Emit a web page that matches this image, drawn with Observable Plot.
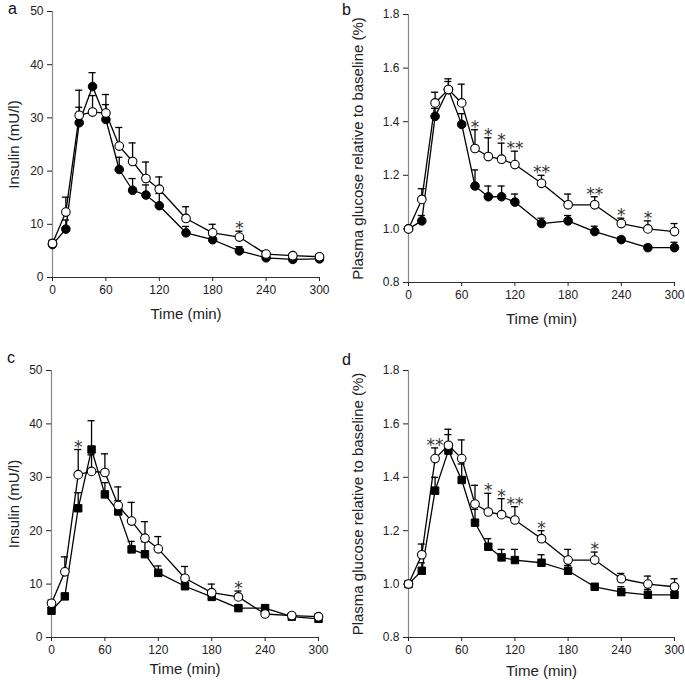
<!DOCTYPE html>
<html>
<head>
<meta charset="utf-8">
<script src="https://cdn.jsdelivr.net/npm/d3@7"></script>
<script src="https://cdn.jsdelivr.net/npm/@observablehq/plot@0.6"></script>
<style>
  body { margin: 0; background: #fff; font-family: "Liberation Sans", Arial, sans-serif; }
  #wrap { position: relative; width: 685px; height: 689px; overflow: hidden; }
  .panel { position: absolute; }
  .letter { position: absolute; font-size: 16px; line-height: 16px; color: #111; font-family: "Liberation Sans", Arial, sans-serif; }
</style>
</head>
<body>
<div id="wrap"></div>
<script>
// ---- data ----
const times = [0, 15, 30, 45, 60, 75, 90, 105, 120, 150, 180, 210, 240, 270, 300];

// Insulin (mU/l)
const insulinOpen      = [6.4, 12.3, 30.5, 31.1, 30.9, 24.7, 21.8, 18.6, 16.6, 11.1, 8.4, 7.6, 4.4, 4.1, 3.9];
const insulinOpenTop   = [7.0, 15.1, 35.2, 34.2, 34.4, 28.2, 25.3, 21.7, 18.9, 13.3, 10.0, 8.7, 5.0, 4.5, 4.4];
const insulinCircle    = [6.2, 9.1, 29.1, 35.9, 29.7, 20.3, 16.4, 15.5, 13.5, 8.4, 7.1, 5.0, 3.7, 3.4, 3.5];
const insulinCircleTop = [6.8, 10.8, 32.0, 38.5, 32.5, 22.6, 18.6, 17.4, 15.8, 9.6, 7.9, 5.8, 4.0, 3.7, 3.8];
const insulinSquare    = [5.0, 7.7, 24.2, 35.2, 26.8, 23.6, 16.5, 15.6, 12.1, 9.6, 7.6, 5.5, 5.5, 3.9, 3.5];
const insulinSquareTop = [5.6, 8.1, 27.1, 40.6, 29.0, 25.6, 18.0, 17.9, 13.4, 10.5, 8.4, 5.9, 6.1, 4.4, 3.9];

// Plasma glucose relative to baseline
const glucoseOpen      = [1.00, 1.11, 1.47, 1.52, 1.47, 1.30, 1.27, 1.26, 1.24, 1.17, 1.09, 1.09, 1.02, 1.00, 0.99];
const glucoseOpenTop   = [1.00, 1.15, 1.51, 1.56, 1.54, 1.37, 1.34, 1.32, 1.29, 1.20, 1.13, 1.12, 1.04, 1.03, 1.02];
const glucoseCircle    = [1.00, 1.03, 1.42, 1.52, 1.39, 1.16, 1.12, 1.12, 1.10, 1.02, 1.03, 0.99, 0.96, 0.93, 0.93];
const glucoseCircleTop = [1.00, 1.05, 1.45, 1.55, 1.43, 1.22, 1.16, 1.16, 1.13, 1.04, 1.05, 1.01, 0.97, 0.94, 0.95];
const glucoseSquare    = [1.00, 1.05, 1.35, 1.50, 1.39, 1.23, 1.14, 1.10, 1.09, 1.08, 1.05, 0.99, 0.97, 0.96, 0.96];
const glucoseSquareTop = [1.00, 1.08, 1.40, 1.58, 1.45, 1.28, 1.17, 1.13, 1.13, 1.11, 1.07, 1.00, 0.99, 0.98, 0.98];

// significance marks
const sigA = ["", "", "", "", "", "", "", "", "", "", "", "*", "", "", ""];
const sigB = ["", "", "", "", "", "*", "*", "*", "**", "**", "", "**", "*", "*", ""];
const sigC = ["", "", "*", "", "", "", "", "", "", "", "", "*", "", "", ""];
const sigD = ["", "", "**", "", "", "", "*", "*", "**", "*", "", "*", "", "", ""];

// tick labels
const xTicks = [0, 60, 120, 180, 240, 300];
const insulinTicks = [0, 10, 20, 30, 40, 50];
const glucoseTicks = [0.8, 1.0, 1.2, 1.4, 1.6, 1.8];

const insulinLabel = "Insulin (mU/l)";
const glucoseLabel = "Plasma glucose relative to baseline (%)";
const xLabel = "Time (min)";

// ---- drawing ----
const FONT = "'Liberation Sans', Arial, sans-serif";

function series(vals, tops, kind) {
  return times.map((t, i) => ({t, v: vals[i], top: tops[i], kind}));
}

function panel(opts) {
  const filled = series(opts.filled, opts.filledTop, "filled");
  const open = series(opts.open, opts.openTop, "open");
  const sig = times.map((t, i) => ({t, s: opts.sig[i],
    y: Math.max(opts.openTop[i], opts.filledTop[i], opts.open[i], opts.filled[i])})).filter(d => d.s);
  const cap = 4;
  return Plot.plot({
    width: opts.width, height: opts.height,
    marginLeft: opts.ml, marginRight: opts.mr, marginTop: opts.mt, marginBottom: opts.mb,
    style: {fontFamily: FONT, fontSize: "12px", background: "transparent", color: "#222"},
    x: {domain: [0, 300]},
    y: {domain: opts.yDomain},
    marks: [
      // axes
      Plot.ruleX([0], {y1: opts.yDomain[0], y2: opts.yDomain[1], stroke: "#888", strokeWidth: 1.2}),
      Plot.ruleY([opts.yDomain[0]], {x1: 0, x2: 300, stroke: "#333", strokeWidth: 1.2}),
      Plot.axisX({ticks: xTicks, tickSize: 4, tickPadding: 4, label: null, tickFormat: d => String(d)}),
      Plot.axisY({ticks: opts.yTicks, tickSize: 5, tickPadding: 4, label: null, tickFormat: opts.yFormat}),
      Plot.text([xLabel], {text: d => d, frameAnchor: "bottom", textAnchor: "middle", dy: opts.xLabelDy, fontSize: 15, fill: "#222"}),
      Plot.text([opts.yLabel], {text: d => d, frameAnchor: "left", textAnchor: "middle", rotate: -90, dx: -opts.yLabelDx, fontSize: 15, fill: "#222"}),
      // error bars
      Plot.ruleX(filled, {x: "t", y1: "v", y2: "top", stroke: "#000", strokeWidth: 1.3}),
      Plot.ruleY(filled, {y: "top", x1: d => d.t - cap, x2: d => d.t + cap, stroke: "#000", strokeWidth: 1.3}),
      Plot.ruleX(open, {x: "t", y1: "v", y2: "top", stroke: "#000", strokeWidth: 1.3}),
      Plot.ruleY(open, {y: "top", x1: d => d.t - cap, x2: d => d.t + cap, stroke: "#000", strokeWidth: 1.3}),
      // lines
      Plot.line(filled, {x: "t", y: "v", stroke: "#000", strokeWidth: 1.3}),
      Plot.line(open, {x: "t", y: "v", stroke: "#000", strokeWidth: 1.3}),
      // markers
      Plot.dot(filled, {x: "t", y: "v", r: opts.square ? 4.2 : 4.3, symbol: opts.square ? "square" : "circle", fill: "#000", stroke: "#000", strokeWidth: 1}),
      Plot.dot(open, {x: "t", y: "v", r: 4.3, fill: "#fff", stroke: "#000", strokeWidth: 1.1}),
      // significance asterisks
      Plot.text(sig, {x: "t", y: "y", text: "s", lineAnchor: "bottom", dy: 3, fontSize: 17, fontFamily: "DejaVu Sans", fill: "#333"})
    ]
  });
}

const configs = [
  {letter: "a", left: 0, top: 0, width: 340, height: 330, ml: 52, mr: 21, mt: 11, mb: 53,
   filled: insulinCircle, filledTop: insulinCircleTop, open: insulinOpen, openTop: insulinOpenTop,
   sig: sigA, yDomain: [0, 50], yTicks: insulinTicks, yFormat: d => String(d), yLabel: insulinLabel,
   yLabelDx: 38, xLabelDy: 41, square: false, lx: 8, ly: 1},
  {letter: "b", left: 340, top: 0, width: 345, height: 330, ml: 68, mr: 11, mt: 14, mb: 48,
   filled: glucoseCircle, filledTop: glucoseCircleTop, open: glucoseOpen, openTop: glucoseOpenTop,
   sig: sigB, yDomain: [0.8, 1.8], yTicks: glucoseTicks, yFormat: d3.format(".1f"), yLabel: glucoseLabel,
   yLabelDx: 50, xLabelDy: 41, square: false, lx: 2, ly: 2},
  {letter: "c", left: 0, top: 330, width: 340, height: 359, ml: 51, mr: 22, mt: 40, mb: 52,
   filled: insulinSquare, filledTop: insulinSquareTop, open: insulinOpen, openTop: insulinOpenTop,
   sig: sigC, yDomain: [0, 50], yTicks: insulinTicks, yFormat: d => String(d), yLabel: insulinLabel,
   yLabelDx: 37, xLabelDy: 36, square: true, lx: 7, ly: 20},
  {letter: "d", left: 340, top: 330, width: 345, height: 359, ml: 68, mr: 11, mt: 40, mb: 52,
   filled: glucoseSquare, filledTop: glucoseSquareTop, open: glucoseOpen, openTop: glucoseOpenTop,
   sig: sigD, yDomain: [0.8, 1.8], yTicks: glucoseTicks, yFormat: d3.format(".1f"), yLabel: glucoseLabel,
   yLabelDx: 50, xLabelDy: 38, square: true, lx: 2, ly: 22}
];

const wrap = document.getElementById("wrap");
for (const c of configs) {
  const div = document.createElement("div");
  div.className = "panel";
  div.style.left = c.left + "px";
  div.style.top = c.top + "px";
  div.appendChild(panel(c));
  wrap.appendChild(div);
  const lab = document.createElement("div");
  lab.className = "letter";
  lab.textContent = c.letter;
  lab.style.left = (c.left + c.lx) + "px";
  lab.style.top = (c.top + c.ly) + "px";
  wrap.appendChild(lab);
}
</script>
</body>
</html>
